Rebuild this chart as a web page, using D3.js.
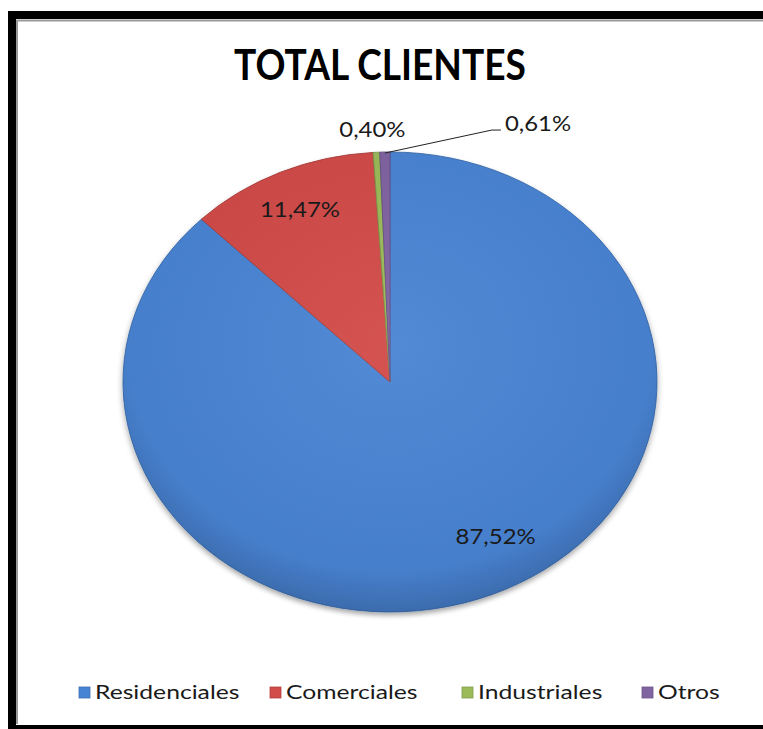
<!DOCTYPE html>
<html>
<head>
<meta charset="utf-8">
<script src="https://cdn.jsdelivr.net/npm/d3@7"></script>
<style>
  html, body { margin: 0; background: #fff; overflow: hidden; }
  svg { display: block; }
  svg text { font-family: Lato, "Open Sans", sans-serif; }
</style>
</head>
<body>
<script>
// chart data
let categories = ["Residenciales", "Comerciales", "Industriales", "Otros"];
let values = [87.52, 11.47, 0.40, 0.61];
let labels = ["87,52%", "11,47%", "0,40%", "0,61%"];
let colors = ["#4884d4", "#d24c49", "#9bbb59", "#8064a2"];
let title = "TOTAL CLIENTES";

let w = 763, h = 729;
let cx = 390, cy = 382;
let rx = 267, ry = 230;
let squash = ry / rx;

let svg = d3.select("body").append("svg")
  .attr("width", w)
  .attr("height", h);

let defs = svg.append("defs");

// soft shading like the excel bevel
let shade = defs.append("radialGradient")
  .attr("id", "shade")
  .attr("cx", "50%").attr("cy", "42%").attr("r", "60%");
shade.append("stop").attr("offset", "0%").attr("stop-color", "#fff").attr("stop-opacity", 0.05);
shade.append("stop").attr("offset", "82%").attr("stop-color", "#000").attr("stop-opacity", 0.04);
shade.append("stop").attr("offset", "100%").attr("stop-color", "#000").attr("stop-opacity", 0.22);

let shadow = defs.append("filter").attr("id", "shadow")
  .attr("x", "-10%").attr("y", "-10%").attr("width", "120%").attr("height", "125%");
shadow.append("feGaussianBlur").attr("in", "SourceAlpha").attr("stdDeviation", 3);
shadow.append("feOffset").attr("dx", 0).attr("dy", 3).attr("result", "b");
shadow.append("feComponentTransfer").append("feFuncA").attr("type", "linear").attr("slope", 0.35);
let merge = shadow.append("feMerge");
merge.append("feMergeNode");
merge.append("feMergeNode").attr("in", "SourceGraphic");

// white page behind everything
svg.append("rect")
  .attr("width", w).attr("height", h)
  .attr("fill", "#fff");

// frame: top, left and bottom only, right side runs off the picture
svg.append("path")
  .attr("d", "M2000,729 H12 V15 H2000")
  .attr("fill", "none")
  .attr("stroke", "#000")
  .attr("stroke-width", 8);
svg.append("path")
  .attr("d", "M17,724 V20.5 H2000")
  .attr("fill", "none")
  .attr("stroke", "#9a9a9a")
  .attr("stroke-width", 2);

// title
svg.append("text")
  .attr("x", 380)
  .attr("y", 80)
  .attr("text-anchor", "middle")
  .attr("font-size", 42)
  .attr("font-weight", "bold")
  .attr("textLength", 292)
  .attr("lengthAdjust", "spacingAndGlyphs")
  .text(title);

// text stretched sideways a bit, the source is wider than it is tall
function wideText(parent, x, y, str, size, sx, anchor) {
  return parent.append("g")
    .attr("transform", "translate(" + x + "," + y + ") scale(" + sx + ",1)")
    .append("text")
    .attr("text-anchor", anchor || "middle")
    .attr("font-size", size)
    .attr("fill", "#1a1a1a")
    .text(str);
}

let data = categories.map((c, i) => ({ name: c, value: values[i], label: labels[i], color: colors[i] }));

let pie = d3.pie().sort(null).value(d => d.value);
let arcs = pie(data);

let arc = d3.arc().innerRadius(0).outerRadius(rx);

let g = svg.append("g")
  .attr("transform", "translate(" + cx + "," + cy + ") scale(1," + squash + ")");

let pieG = g.append("g").attr("filter", "url(#shadow)");

pieG.selectAll("path.slice")
  .data(arcs)
  .enter()
  .append("path")
  .attr("class", "slice")
  .attr("d", arc)
  .attr("fill", d => d.data.color)
  .attr("stroke", d => d3.color(d.data.color).darker(0.6))
  .attr("stroke-width", 1);

g.append("circle")
  .attr("r", rx)
  .attr("fill", "url(#shade)")
  .attr("pointer-events", "none");

// point on the ellipse for an angle (0 = top, clockwise)
function pt(a, r) {
  return [cx + Math.sin(a) * r, cy - Math.cos(a) * r * squash];
}

let labelG = svg.append("g");
let lblSize = 21, lblSx = 1.14;

arcs.forEach((d, i) => {
  let mid = (d.startAngle + d.endAngle) / 2;
  if (d.data.value > 5) {
    let r = i == 0 ? 0.78 * rx : 0.82 * rx;
    let a = i == 0 ? mid - 0.14 : mid;
    let p = pt(a, r);
    wideText(labelG, p[0], p[1] + 7, d.data.label, lblSize, lblSx);
  } else {
    let e = pt(mid, rx);
    if (i == 2) {
      wideText(labelG, e[0] - 4, e[1] - 15, d.data.label, lblSize, lblSx);
    } else {
      let tx = e[0] + 120, ty = e[1] - 21;
      labelG.append("path")
        .attr("d", "M" + e[0] + "," + (e[1] + 1) + " L" + (tx - 13) + "," + (ty - 1) + " H" + (tx - 4))
        .attr("fill", "none")
        .attr("stroke", "#222")
        .attr("stroke-width", 1);
      wideText(labelG, tx, ty, d.data.label, lblSize, lblSx, "start");
    }
  }
});

// legend
let legendX = [79, 270, 462, 642];
let legend = svg.append("g");
data.forEach((d, i) => {
  let it = legend.append("g").attr("transform", "translate(" + legendX[i] + ",687)");
  it.append("rect")
    .attr("width", 11).attr("height", 11)
    .attr("fill", d.color)
    .attr("stroke", d3.color(d.color).darker(0.5))
    .attr("stroke-width", 0.8);
  wideText(it, 16, 12, d.name, 19, 1.3, "start");
});
</script>
</body>
</html>
